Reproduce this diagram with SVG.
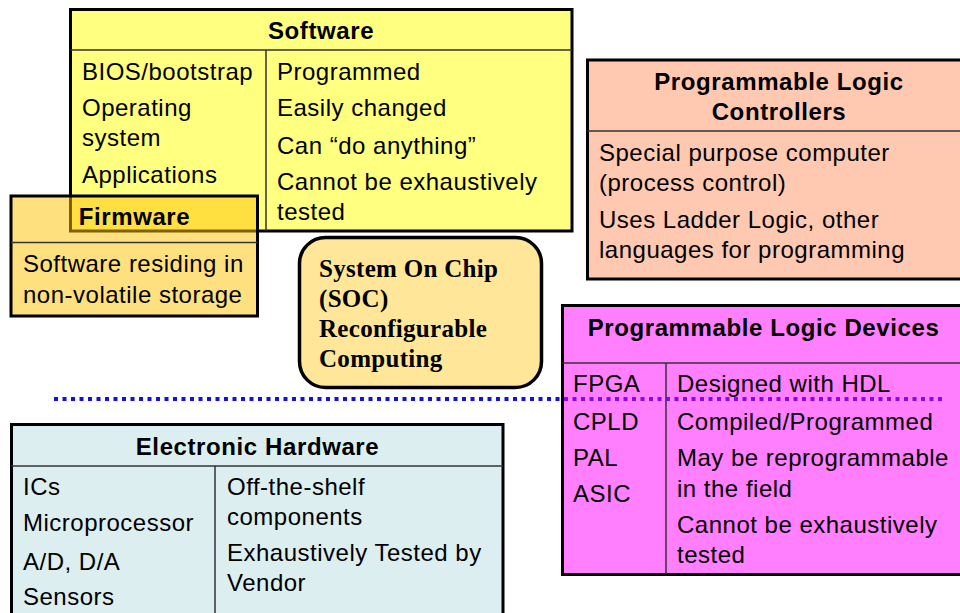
<svg xmlns="http://www.w3.org/2000/svg" width="960" height="613" viewBox="0 0 960 613">
  <style>
    .box { stroke: #000; stroke-width: 3; }
    .div { stroke: #333; stroke-width: 1.5; fill: none; }
    .t { font-family: "Liberation Sans", Arial, sans-serif; font-size: 24px; letter-spacing: 0.5px; fill: #000; }
    .h { font-family: "Liberation Sans", Arial, sans-serif; font-size: 24px; font-weight: bold; letter-spacing: 0.6px; fill: #000; text-anchor: middle; }
    .s { font-family: "Liberation Serif", "Times New Roman", serif; font-size: 25px; font-weight: bold; letter-spacing: 0.3px; fill: #000; }
  </style>

  <rect width="960" height="613" fill="#fff"/>

  <!-- Software -->
  <g id="software">
    <rect class="box" x="70.5" y="9.5" width="501.5" height="221.5" fill="#FFFF80"/>
    <line class="div" x1="70.5" y1="50" x2="572" y2="50"/>
    <line class="div" x1="266" y1="50" x2="266" y2="231"/>
    <text class="h" x="321" y="39">Software</text>
    <text class="t" x="82" y="80">BIOS/bootstrap</text>
    <text class="t" x="82" y="116">Operating</text>
    <text class="t" x="82" y="146">system</text>
    <text class="t" x="82" y="183">Applications</text>
    <text class="t" x="277" y="80">Programmed</text>
    <text class="t" x="277" y="116">Easily changed</text>
    <text class="t" x="277" y="154">Can “do anything”</text>
    <text class="t" x="277" y="190">Cannot be exhaustively</text>
    <text class="t" x="277" y="220">tested</text>
  </g>

  <!-- Firmware (translucent, overlapping Software) -->
  <g id="firmware">
    <rect x="11" y="196" width="246.5" height="120" fill="#FFC100" fill-opacity="0.5"/>
    <rect class="box" x="11" y="196" width="246.5" height="120" fill="none"/>
    <line class="div" x1="11" y1="242.5" x2="257.5" y2="242.5"/>
    <text class="h" x="134.5" y="225">Firmware</text>
    <text class="t" x="23" y="272">Software residing in</text>
    <text class="t" x="23" y="303">non-volatile storage</text>
  </g>

  <!-- System On Chip -->
  <g id="soc">
    <rect x="299.5" y="237.5" width="242" height="150" rx="26" ry="26" fill="#FFE699" stroke="#000" stroke-width="3.5"/>
    <text class="s" x="319" y="277">System On Chip</text>
    <text class="s" x="319" y="307">(SOC)</text>
    <text class="s" x="319" y="337">Reconfigurable</text>
    <text class="s" x="319" y="367">Computing</text>
  </g>

  <!-- Programmable Logic Controllers -->
  <g id="plc">
    <rect class="box" x="587.5" y="60" width="384" height="219" fill="#FFC8B0"/>
    <line class="div" x1="587.5" y1="131" x2="972" y2="131"/>
    <text class="h" x="779" y="90">Programmable Logic</text>
    <text class="h" x="779" y="120">Controllers</text>
    <text class="t" x="599" y="161">Special purpose computer</text>
    <text class="t" x="599" y="191">(process control)</text>
    <text class="t" x="599" y="228">Uses Ladder Logic, other</text>
    <text class="t" x="599" y="258">languages for programming</text>
  </g>

  <!-- Connectors: boundary line between software and hardware -->
  <g id="connectors">
    <line x1="54" y1="399" x2="942" y2="399" stroke="#1010E0" stroke-width="4" stroke-dasharray="4 4.5"/>
  </g>

  <!-- Programmable Logic Devices (translucent fill over the dotted line) -->
  <g id="pld">
    <rect x="562.5" y="305.5" width="403" height="269" fill="#FF00FF" fill-opacity="0.5"/>
    <rect class="box" x="562.5" y="305.5" width="403" height="269" fill="none"/>
    <line class="div" x1="562.5" y1="363" x2="966" y2="363"/>
    <line class="div" x1="666" y1="363" x2="666" y2="574"/>
    <text class="h" x="763.5" y="336">Programmable Logic Devices</text>
    <text class="t" x="573" y="392">FPGA</text>
    <text class="t" x="573" y="430">CPLD</text>
    <text class="t" x="573" y="466">PAL</text>
    <text class="t" x="573" y="502">ASIC</text>
    <text class="t" x="677" y="392">Designed with HDL</text>
    <text class="t" x="677" y="430">Compiled/Programmed</text>
    <text class="t" x="677" y="466">May be reprogrammable</text>
    <text class="t" x="677" y="497">in the field</text>
    <text class="t" x="677" y="533">Cannot be exhaustively</text>
    <text class="t" x="677" y="563">tested</text>
  </g>

  <!-- Electronic Hardware -->
  <g id="hardware">
    <rect class="box" x="11.5" y="424.5" width="491.5" height="200" fill="#DCEEF0"/>
    <line class="div" x1="11.5" y1="466" x2="503" y2="466"/>
    <line class="div" x1="215" y1="466" x2="215" y2="625"/>
    <text class="h" x="257.5" y="455">Electronic Hardware</text>
    <text class="t" x="23" y="495">ICs</text>
    <text class="t" x="23" y="531">Microprocessor</text>
    <text class="t" x="23" y="570">A/D, D/A</text>
    <text class="t" x="23" y="605">Sensors</text>
    <text class="t" x="227" y="495">Off-the-shelf</text>
    <text class="t" x="227" y="525">components</text>
    <text class="t" x="227" y="561">Exhaustively Tested by</text>
    <text class="t" x="227" y="591">Vendor</text>
  </g>
</svg>
